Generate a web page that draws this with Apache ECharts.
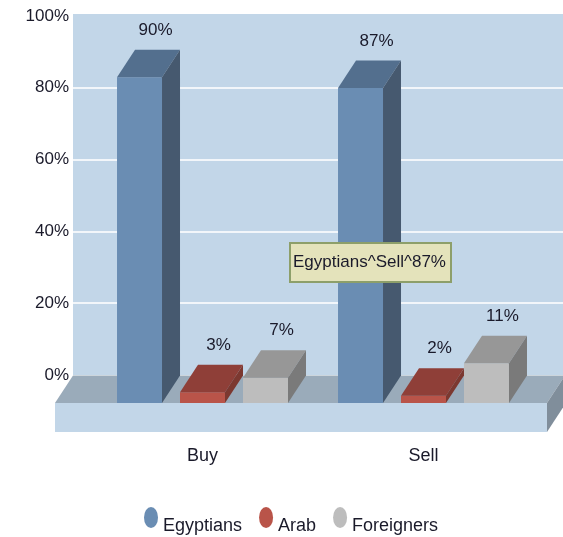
<!DOCTYPE html>
<html><head><meta charset="utf-8">
<style>html,body{margin:0;padding:0;background:#fff;overflow:hidden}#c{width:563px;height:537px;filter:blur(0.55px)}</style>
<script src="https://cdn.jsdelivr.net/npm/echarts@6/dist/echarts.min.js"></script>
</head><body><div id="c"></div>
<script>
const categories = ['Buy', 'Sell'];
const egyptians = [90, 87];
const arab = [3, 2];
const foreigners = [7, 11];
const seriesNames = ['Egyptians', 'Arab', 'Foreigners'];
const tooltipText = 'Egyptians^Sell^87%';

const FONT = '"Liberation Sans",sans-serif';
const INK = '#1a1a2a';
const DX = 18, DY = -27.5;
const palettes = [
  {front:'#6a8db3', top:'#536f8e', side:'#46596f'},
  {front:'#b95449', top:'#8f3f38', side:'#7c3830'},
  {front:'#bdbdbd', top:'#979797', side:'#7a7a7a'}
];
function barRender(idx){
  return function(params, api){
    const band = api.size([1,0])[0];
    const w = band*0.2036, step = band*0.285;
    const cat = api.value(0), v = api.value(1);
    const t = api.coord([cat, v]), b = api.coord([cat, 0]);
    const cx = t[0] + (idx-1)*step;
    const x0 = cx-w/2, x1 = cx+w/2, yt = t[1], yb = b[1];
    const p = palettes[idx];
    return {type:'group', children:[
      {type:'rect', shape:{x:x0,y:yt,width:w,height:yb-yt}, style:{fill:p.front}},
      {type:'polygon', shape:{points:[[x0,yt],[x1,yt],[x1+DX,yt+DY],[x0+DX,yt+DY]]}, style:{fill:p.top}},
      {type:'polygon', shape:{points:[[x1,yt],[x1+DX,yt+DY],[x1+DX,yb+DY],[x1,yb]]}, style:{fill:p.side}},
      {type:'text', x:cx+DX-2, y:yt+DY-19.5, style:{text:v+'%', font:'17px '+FONT, fill:INK, align:'center', verticalAlign:'middle'}}
    ]};
  };
}
function sceneryRender(params, api){
  const c = params.coordSys;
  const xl = c.x-37, xr = c.x+c.width+13, yb = c.y+c.height, h = 29;
  return {type:'group', children:[
    {type:'polygon', shape:{points:[[xl,yb],[xl+DX,yb+DY],[xr+DX,yb+DY],[xr,yb]]}, style:{fill:'#9aabba'}},
    {type:'rect', shape:{x:xl,y:yb,width:xr-xl,height:h}, style:{fill:'#c2d6e8'}},
    {type:'polygon', shape:{points:[[xr,yb],[xr+DX,yb+DY],[xr+DX,yb+DY+h],[xr,yb+h]]}, style:{fill:'#808e9b'}}
  ]};
}
function rows(vals){ return categories.map((c,i)=>[c, vals[i]]); }
const chart = echarts.init(document.getElementById('c'), null, {renderer:'canvas'});
chart.setOption({
  animation:false,
  backgroundColor:'#fff',
  grid:[
    {left:73, top:16, width:492, height:359, show:true, backgroundColor:'#c2d6e8', borderWidth:0},
    {left:92, top:41, width:442, height:362, show:false}
  ],
  xAxis:[
    {gridIndex:0, type:'category', data:categories, show:false},
    {gridIndex:1, type:'category', data:categories, axisLine:{show:false}, axisTick:{show:false},
     axisLabel:{margin:44, fontFamily:FONT, fontSize:18, color:INK}}
  ],
  yAxis:[
    {gridIndex:0, type:'value', min:0, max:100, interval:20, axisLine:{show:false}, axisTick:{show:false},
     axisLabel:{margin:4, formatter:'{value}%', fontFamily:FONT, fontSize:17, color:INK},
     splitLine:{show:true, showMinLine:false, showMaxLine:false, lineStyle:{color:'#f2f6fa', width:2}}},
    {gridIndex:1, type:'value', min:0, max:100, show:false, splitLine:{show:false}}
  ],
  legend:{
    data:seriesNames, left:144, top:499.5, padding:0, itemWidth:14, itemHeight:21, itemGap:17, symbolKeepAspect:false,
    icon:'path://M0 10a10 10 0 1 0 20 0a10 10 0 1 0 -20 0z',
    formatter:function(name){ return '\n'+name; },
    textStyle:{fontFamily:FONT, fontSize:18, lineHeight:18, color:INK}
  },
  graphic:[
    {type:'rect', z:-1, shape:{x:73,y:14,width:492,height:2}, style:{fill:'#c2d6e8'}},
    {type:'rect', z:100, shape:{x:290,y:243,width:161,height:39}, style:{fill:'#e4e3bb', stroke:'#8d9f6a', lineWidth:2}},
    {type:'text', z:101, x:293, y:262, style:{text:tooltipText, font:'17px '+FONT, fill:INK, verticalAlign:'middle'}}
  ],
  series:[
    {type:'custom', name:'scenery', xAxisIndex:1, yAxisIndex:1, data:[[0,0]], renderItem:sceneryRender, z:1, silent:true},
    {type:'custom', name:seriesNames[0], xAxisIndex:1, yAxisIndex:1, data:rows(egyptians), encode:{x:0,y:1}, renderItem:barRender(0), itemStyle:{color:palettes[0].front}, z:2},
    {type:'custom', name:seriesNames[1], xAxisIndex:1, yAxisIndex:1, data:rows(arab), encode:{x:0,y:1}, renderItem:barRender(1), itemStyle:{color:palettes[1].front}, z:3},
    {type:'custom', name:seriesNames[2], xAxisIndex:1, yAxisIndex:1, data:rows(foreigners), encode:{x:0,y:1}, renderItem:barRender(2), itemStyle:{color:palettes[2].front}, z:4}
  ]
});
</script></body></html>
